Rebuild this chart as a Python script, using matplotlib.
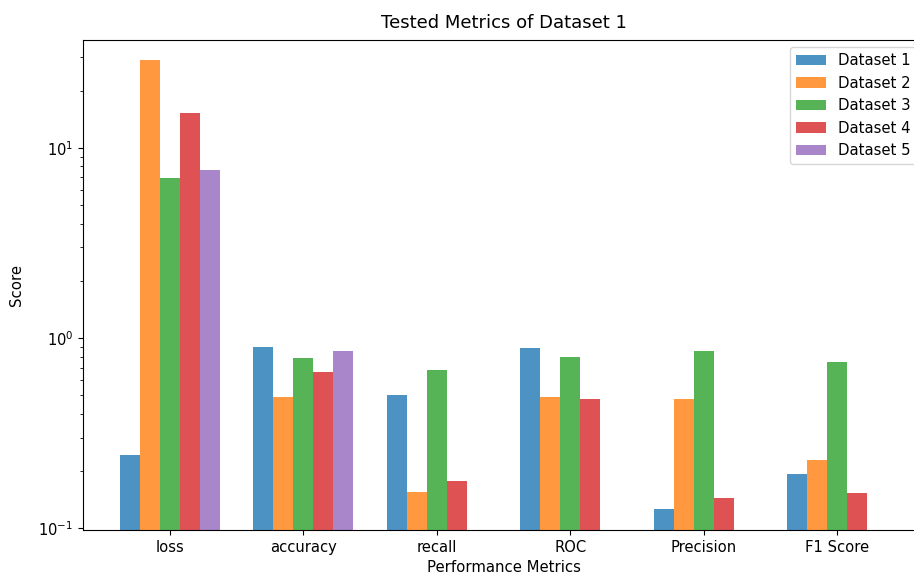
import numpy as np
import matplotlib.pyplot as plt

metrics = ['loss', 'accuracy', 'recall', 'ROC', 'Precision', 'F1 Score']
datasets = ['Dataset 1', 'Dataset 2', 'Dataset 3', 'Dataset 4', 'Dataset 5']

# one list per dataset, in the order of metrics (nan = not measured)
scores_1 = [0.242, 0.90, 0.501, 0.883, 0.127, 0.194]
scores_2 = [29.0, 0.491, 0.155, 0.491, 0.476, 0.228]
scores_3 = [6.98, 0.782, 0.684, 0.797, 0.855, 0.75]
scores_4 = [15.2, 0.665, 0.177, 0.477, 0.145, 0.153]
scores_5 = [7.66, 0.858, np.nan, np.nan, np.nan, np.nan]

all_scores = [scores_1, scores_2, scores_3, scores_4, scores_5]
width = 0.15


def plot_scores():
    fig = plt.figure(figsize=(9.14, 5.75), dpi=100)
    ax = fig.add_axes([83/914, 45/575, 841/914, 490/575])

    x = np.arange(len(metrics))
    for i, (name, vals) in enumerate(zip(datasets, all_scores)):
        ax.bar(x + (i - 2) * width, vals, width, label=name, alpha=0.8)

    ax.set_yscale('log')
    ax.set_ylim(0.098, 37)
    ax.set_xlim(-0.65, len(metrics) - 1 + 0.65)
    ax.set_xticks(x)
    ax.set_xticklabels(metrics)
    ax.tick_params(axis='both', labelsize=10.6)

    ax.set_title('Tested Metrics of Dataset 1', fontsize=13, pad=9)
    ax.set_xlabel('Performance Metrics', fontsize=10.7)
    ax.set_ylabel('Score', fontsize=10.7)
    ax.yaxis.set_label_coords(-0.07, 0.5)
    ax.legend(loc='upper right', fontsize=10.7)

    fig.savefig('out.png', dpi=100)


if __name__ == '__main__':
    plot_scores()
